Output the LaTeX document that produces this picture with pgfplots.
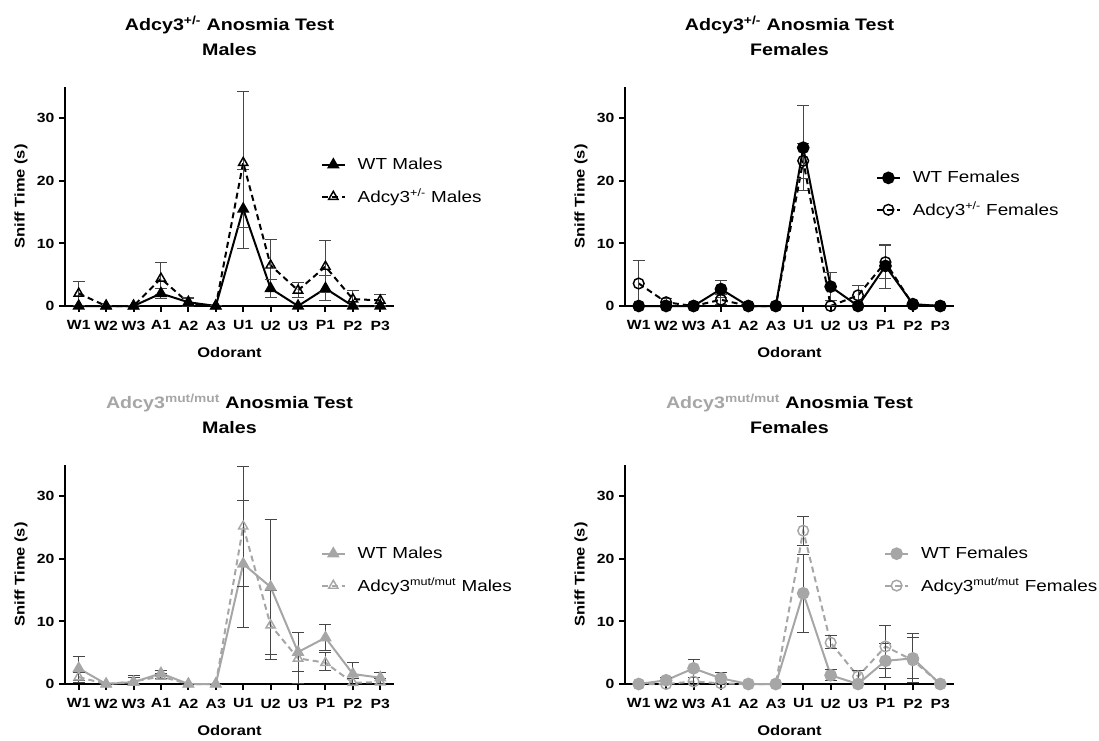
\documentclass[border=0pt]{standalone}
\usepackage{fontspec}
\setmainfont{Liberation Sans}[FakeStretch=1.18]
\usepackage{pgfplots}
\pgfplotsset{compat=1.18}
\definecolor{mutgray}{RGB}{166,166,166}
\definecolor{errdark}{RGB}{70,70,70}

\pgfplotsset{
 panel/.style={
  scale only axis, width=246.75pt, height=164.25pt,
  xmin=-0.5, xmax=11.5, ymin=0, ymax=35,
  axis lines=left, axis line style={line width=1.5pt,-},
  clip=false,
  xtick={0,...,11},
  xticklabels={W1,W2,W3,A1,A2,A3,U1,U2,U3,P1,P2,P3},
  ytick={0,10,20,30},
  tick align=outside, major tick length=4.5pt,
  tick style={line width=1.5pt,black},
  /pgf/number format/assume math mode=true,
  ticklabel style={font=\fontsize{10}{12}\selectfont\bfseries},
  xticklabel style={yshift=-3pt},
  label style={font=\fontsize{10.5}{12}\selectfont\bfseries},
  xlabel style={yshift=-6pt},
  xlabel={Odorant}, ylabel={Sniff Time (s)},
  title style={align=center, font=\fontsize{12.5}{18.5}\selectfont\bfseries, yshift=14pt},
  legend cell align=left,
  legend style={draw=none, fill=none, font=\fontsize{12}{14}\selectfont, row sep=9pt, anchor=west,
   /tikz/every odd column/.append style={column sep=7pt}},
  error bars/y dir=both, error bars/y explicit,
  error bars/error bar style={line width=0.75pt, errdark, solid},
  error bars/error mark options={rotate=90, line width=0.75pt, errdark, mark size=4.5pt, solid},
 },
 wt/.style={line width=1.5pt, mark size=4pt, mark options={solid}},
 mt/.style={line width=1.5pt, dash pattern=on 4.5pt off 3pt, mark size=4pt, mark options={solid, line width=1.1pt}},
}

\begin{document}
\begin{tikzpicture}
\path[use as bounding box] (0pt,0pt) rectangle (824.25pt,-555.75pt);

% top left: Adcy3 +/- males
\begin{axis}[panel, at={(48.75pt,-229.5pt)}, anchor=south west,
 title={Adcy3\textsuperscript{+/-} Anosmia Test\\Males},
 legend style={at={(0.765,0.57)}}]
\addplot[wt, black, mark=triangle*] table[x=x,y=y,y error plus=ep,y error minus=em] {
x y ep em
0 0 0 0
1 0 0 0
2 0 0 0
3 2.0 0.8 0.8
4 0.6 0.6 0.6
5 0 0 0
6 15.5 6.3 6.3
7 2.8 1.5 1.5
8 0 0 0
9 2.8 2.0 2.0
10 0 0 0
11 0 0 0
};
\addlegendentry{WT Males}
\addplot[mt, black, mark=triangle] table[x=x,y=y,y error plus=ep,y error minus=em] {
x y ep em
0 2.0 1.9 1.9
1 0 0 0
2 0 0 0
3 4.4 2.6 2.6
4 0.5 0.9 0.5
5 0 0 0
6 22.9 11.4 10.3
7 6.5 4.2 4.2
8 2.5 1.2 1.2
9 6.3 4.1 4.1
10 1.1 1.3 1.1
11 0.9 1.0 0.9
};
\addlegendentry{Adcy3\textsuperscript{+/-} Males}
\end{axis}

% top right: Adcy3 +/- females
\begin{axis}[panel, at={(468.75pt,-229.5pt)}, anchor=south west,
 title={Adcy3\textsuperscript{+/-} Anosmia Test\\Females},
 legend style={at={(0.75,0.51)}}]
\addplot[wt, black, mark=*] table[x=x,y=y,y error plus=ep,y error minus=em] {
x y ep em
0 0 0 0
1 0 0 0
2 0 0 0
3 2.7 1.4 1.4
4 0 0 0
5 0 0 0
6 25.3 6.8 6.8
7 3.1 2.3 2.3
8 0 0 0
9 6.4 3.4 3.6
10 0.3 0.3 0.3
11 0 0 0
};
\addlegendentry{WT Females}
\addplot[mt, black, mark=o] table[x=x,y=y,y error plus=ep,y error minus=em] {
x y ep em
0 3.6 3.7 3.6
1 0.6 0.6 0.6
2 0 0 0
3 1.0 0.8 0.8
4 0 0 0
5 0 0 0
6 23.2 2.8 2.8
7 0 0 0
8 1.7 1.6 1.6
9 7.0 2.6 2.6
10 0.2 0.2 0.2
11 0 0 0
};
\addlegendentry{Adcy3\textsuperscript{+/-} Females}
\end{axis}

% bottom left: Adcy3 mut/mut males
\begin{axis}[panel, at={(48.75pt,-513pt)}, anchor=south west,
 title={\textcolor{mutgray}{Adcy3\textsuperscript{mut/mut}} Anosmia Test\\Males},
 legend style={at={(0.765,0.52)}}]
\addplot[wt, mutgray, mark=triangle*] table[x=x,y=y,y error plus=ep,y error minus=em] {
x y ep em
0 2.5 1.9 1.9
1 0 0 0
2 0.3 1.1 0.3
3 1.7 0.4 0.4
4 0 0 0
5 0 0 0
6 19.2 10.2 10.2
7 15.5 10.8 10.8
8 5.1 3.1 3.1
9 7.4 2.1 2.0
10 1.6 1.9 1.6
11 1.0 0.9 0.9
};
\addlegendentry{WT Males}
\addplot[mt, mutgray, mark=triangle] table[x=x,y=y,y error plus=ep,y error minus=em] {
x y ep em
0 1.1 0.8 0.8
1 0 0 0
2 0.4 0.6 0.4
3 1.2 0.4 0.4
4 0 0 0
5 0 0 0
6 25.2 9.6 9.6
7 9.4 5.5 5.5
8 4.1 4.1 4.0
9 3.4 1.7 1.2
10 0.2 0.6 0.2
11 0.3 0.5 0.3
};
\addlegendentry{Adcy3\textsuperscript{mut/mut} Males}
\end{axis}

% bottom right: Adcy3 mut/mut females
\begin{axis}[panel, at={(468.75pt,-513pt)}, anchor=south west,
 title={\textcolor{mutgray}{Adcy3\textsuperscript{mut/mut}} Anosmia Test\\Females},
 legend style={at={(0.775,0.52)}}]
\addplot[wt, mutgray, mark=*] table[x=x,y=y,y error plus=ep,y error minus=em] {
x y ep em
0 0 0 0
1 0.6 0.5 0.5
2 2.5 1.4 1.4
3 0.9 1.0 0.9
4 0 0 0
5 0 0 0
6 14.5 6.2 6.2
7 1.4 0.9 0.9
8 0 0 0
9 3.7 2.7 2.7
10 4.1 3.9 3.2
11 0 0 0
};
\addlegendentry{WT Females}
\addplot[mt, mutgray, mark=o] table[x=x,y=y,y error plus=ep,y error minus=em] {
x y ep em
0 0 0 0
1 0 0 0
2 0.4 0.6 0.4
3 0.1 0.2 0.1
4 0 0 0
5 0 0 0
6 24.5 2.3 2.3
7 6.6 1.1 1.0
8 1.2 0.9 0.9
9 6.0 3.4 3.5
10 3.8 3.6 3.6
11 0 0 0
};
\addlegendentry{Adcy3\textsuperscript{mut/mut} Females}
\end{axis}
\end{tikzpicture}
\end{document}
